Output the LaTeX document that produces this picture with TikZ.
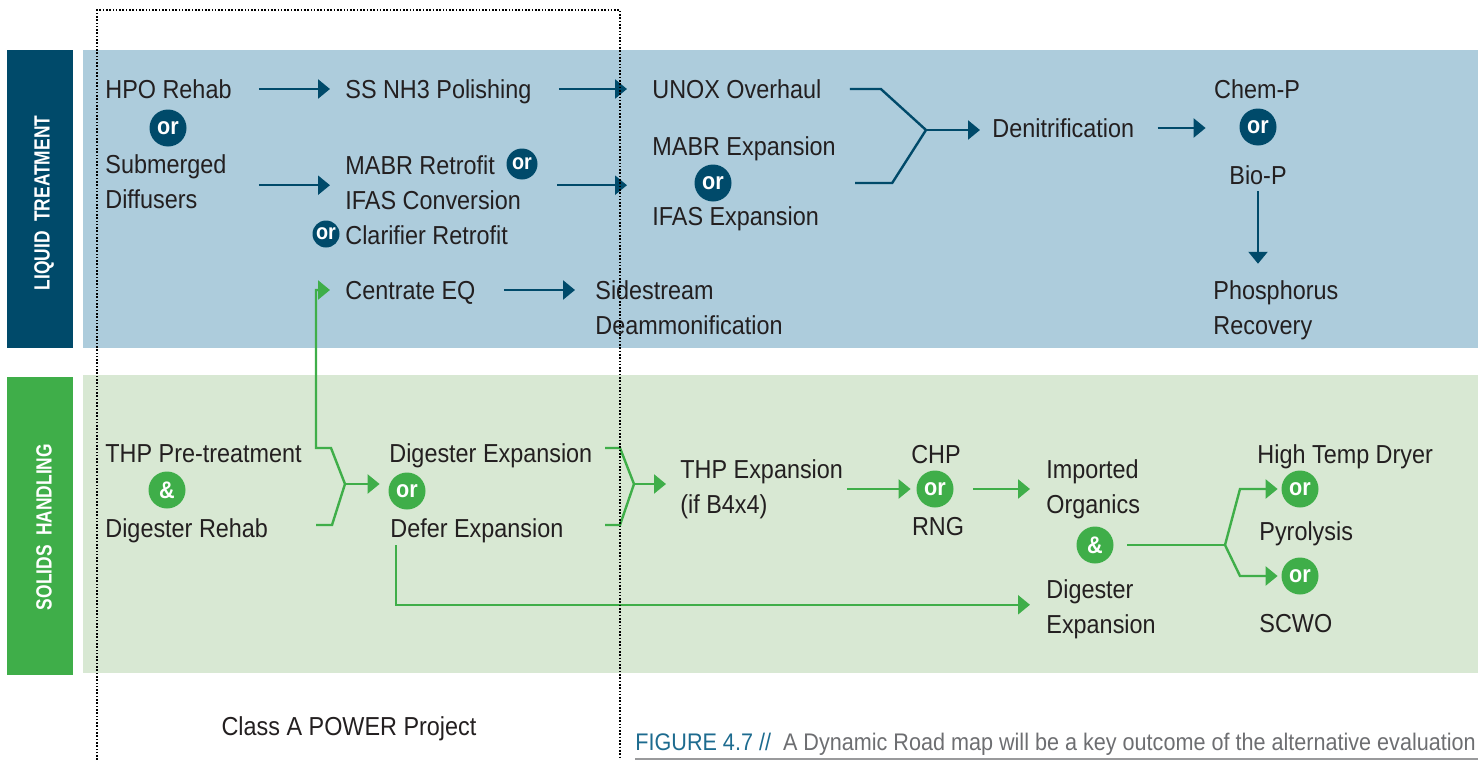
\documentclass[tikz,border=0pt]{standalone}
\usepackage{fontspec}
\setmainfont{Liberation Sans}[FakeStretch=0.9]
\newfontfamily\barfont{Liberation Sans}[FakeStretch=0.79]
\usetikzlibrary{arrows.meta}
\tikzset{>={Triangle[width=9.5pt,length=6pt]}}
\definecolor{deep}{HTML}{004A6A}
\definecolor{leaf}{HTML}{3FAE49}
\definecolor{sky}{HTML}{ADCCDC}
\definecolor{mint}{HTML}{D8E8D3}
\definecolor{ink}{HTML}{231F20}
\definecolor{capblue}{HTML}{1D6B8F}
\definecolor{capgray}{HTML}{6D6E71}

\begin{document}
\begin{tikzpicture}[x=0.5pt,y=-0.5pt,font=\fontsize{13}{17.5}\selectfont,text=ink]
\tikzstyle{tx}=[anchor=base west,inner sep=0,text height=10pt,text depth=1pt]
\tikzstyle{txc}=[tx,anchor=base]
\tikzstyle{tx2}=[anchor=base west,inner sep=0,align=left]
\tikzstyle{orb}=[circle,inner sep=0,minimum size=18.5pt,text=white,font=\bfseries\fontsize{12}{12}\selectfont]
\tikzstyle{ob}=[orb,fill=deep]
\tikzstyle{og}=[orb,fill=leaf]
\tikzstyle{osm}=[ob,font=\bfseries\fontsize{11}{11}\selectfont]
\tikzstyle{arb}=[->,draw=deep,line width=1.2pt]
\tikzstyle{lnb}=[draw=deep,line width=1.2pt]
\tikzstyle{lng}=[draw=leaf,line width=1.2pt]
\tikzstyle{arg}=[lng,->]
\tikzstyle{bar}=[rotate=90,text=white,inner sep=0,font=\barfont\bfseries\fontsize{11}{12}\selectfont]

    \useasboundingbox (0,0) rectangle (1483,760);
    \fill[deep] (7,50) rectangle (73,348);
    \fill[sky] (83,50) rectangle (1478,348);
    \fill[leaf] (7,377) rectangle (73,675);
    \fill[mint] (83,375) rectangle (1478,673);
    \node[bar] (liq) at (44,203) {LIQUID\ \ TREATMENT};
    \node[bar] (sol) at (44,527) {SOLIDS\ \ HANDLING};

    \node[tx] (hpo) at (105,98) {HPO Rehab};
    \node[ob] (or1) at (168,128) {or};
    \node[tx2] (sub) at (105,208) {Submerged\\Diffusers};
    \node[tx] (ss) at (345,98) {SS NH3 Polishing};
    \node[tx] (mabr) at (345,174) {MABR Retrofit};
    \node[osm,minimum size=15.5pt] (or2) at (522,164) {or};
    \node[tx] (ifas) at (345,209) {IFAS Conversion};
    \node[osm,minimum size=13.5pt] (or3) at (326,234) {or};
    \node[tx] (clar) at (345,244) {Clarifier Retrofit};
    \node[tx] (cent) at (345,299) {Centrate EQ};
    \node[tx2] (side) at (595,334) {Sidestream\\Deammonification};
    \node[tx] (unox) at (652,98) {UNOX Overhaul};
    \node[tx] (mabrx) at (652,155) {MABR Expansion};
    \node[ob] (or4) at (713,183) {or};
    \node[tx] (ifasx) at (652,225) {IFAS Expansion};
    \node[tx] (deni) at (992,137) {Denitrification};
    \node[txc] (chem) at (1257,98) {Chem-P};
    \node[ob] (or5) at (1258,127) {or};
    \node[txc] (bio) at (1258,184) {Bio-P};
    \node[tx2] (phos) at (1213,334) {Phosphorus\\Recovery};

    \node[tx] (thp) at (105,462) {THP Pre-treatment};
    \node[og] (and1) at (167,490) {\&};
    \node[tx] (digr) at (105,537) {Digester Rehab};
    \node[tx] (dige) at (389,462) {Digester Expansion};
    \node[og] (or6) at (407,491) {or};
    \node[tx] (defer) at (390,537) {Defer Expansion};
    \node[tx2] (thpx) at (680,513) {THP Expansion\\(if B4x4)};
    \node[txc] (chp) at (936,463) {CHP};
    \node[og] (or7) at (935,489) {or};
    \node[txc] (rng) at (938,535) {RNG};
    \node[tx2] (imp) at (1046,513) {Imported\\Organics};
    \node[og] (and2) at (1095,545) {\&};
    \node[tx2] (dig2) at (1046,633) {Digester\\Expansion};
    \node[tx] (htd) at (1257,463) {High Temp Dryer};
    \node[og] (or8) at (1300,489) {or};
    \node[tx] (pyro) at (1259,540) {Pyrolysis};
    \node[og] (or9) at (1300,576) {or};
    \node[tx] (scwo) at (1259,632) {SCWO};

    \node[txc] (cls) at (349,735) {Class A POWER Project};
    \node[tx,font=\fontsize{12}{14}\selectfont] (cap) at (635,750) {\textcolor{capblue}{FIGURE 4.7 //}\ \ \textcolor{capgray}{A Dynamic Road map will be a key outcome of the alternative evaluation}};
    \draw[capgray!70,line width=0.7pt] (635,759) -- (1478,759);

    \draw[arb,shorten <=13.5pt,shorten >=7.5pt] (hpo) -- (ss);
    \draw[arb,shorten <=13.5pt,shorten >=12.5pt] (ss) -- (unox);
    \draw[arb,shorten <=16pt,shorten >=7.5pt] ([yshift=-2pt]sub.east) -- ([yshift=-2pt]sub.east -| ifas.west);
    \draw[arb,shorten <=18pt,shorten >=12.5pt] ([yshift=-2pt]sub.east -| ifas.east) -- ([yshift=-2pt]sub.east -| mabrx.west);
    \draw[arb,shorten <=14pt,shorten >=10pt] (cent) -- (cent -| side.west);

    \coordinate (jl) at (926,130);
    \draw[lnb] ([xshift=14pt]unox.east) -- ++(31,0) -- (jl);
    \draw[lnb] ([xshift=9.5pt]or4 -| mabrx.east) -- ++(37,0) -- (jl);
    \draw[arb,shorten >=6pt] (jl) -- (jl -| deni.west);
    \draw[arb,shorten <=11.5pt,shorten >=16.75pt] (deni.east) -- (deni.east -| or5.west);
    \draw[arb,shorten <=2.5pt,shorten >=8pt] (bio) -- (bio |- phos.north);

    \coordinate (j1) at (345,484);
    \draw[arg,shorten >=7.5pt] (j1) -- ++(-14,-36) -- ++(-15,0) |- (cent.west);
    \draw[lng] (j1) -- ++(-13,41) -- ++(-16,0);
    \draw[arg,shorten >=4.25pt] (j1) -- (j1 -| or6.west);

    \coordinate (j2) at (634,484);
    \draw[lng] (j2) -- ++(-14,-36) -- ++(-15,0);
    \draw[lng] (j2) -- ++(-14,41) -- ++(-15,0);
    \draw[arg,shorten >=7pt] (j2) -- (j2 -| thpx.west);

    \draw[arg,shorten <=2pt,shorten >=2.75pt] (or7 -| thpx.east) -- (or7);
    \draw[arg,shorten <=9.75pt,shorten >=8pt] (or7) -- (or7 -| imp.west);
    \coordinate (j3) at (1225,545);
    \draw[lng,shorten <=6.75pt] (and2) -- (j3);
    \draw[arg,shorten >=1.75pt] (j3) -- ++(15,-56) -- (or8);
    \draw[arg,shorten >=1.75pt] (j3) -- ++(15,31) -- (or9);
    \draw[arg,shorten <=3pt,shorten >=8pt] ([xshift=3pt]defer.south west) |- ([yshift=2pt]dig2.west);

    \draw[dash pattern=on 0.8pt off 0.85pt,line width=0.9pt,black] (97,760) -- (97,10) -- (620,10) -- (620,760);

\end{tikzpicture}
\end{document}
